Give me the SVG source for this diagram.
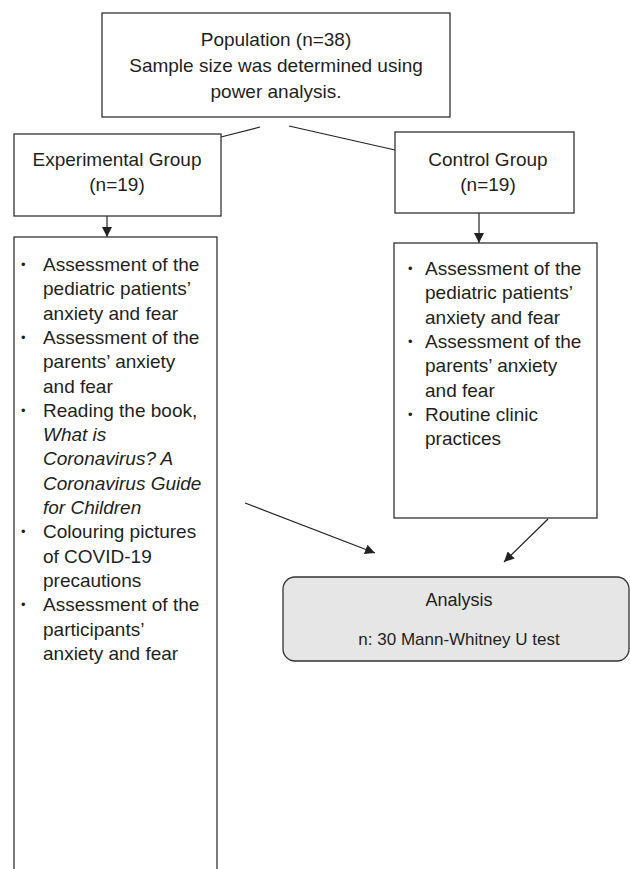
<svg xmlns="http://www.w3.org/2000/svg" width="630" height="869" viewBox="0 0 630 869">
<style>
text{font-family:"Liberation Sans","Open Sans",sans-serif;fill:#231f20;font-size:19px}
.c{text-anchor:middle}
.i{font-style:italic}
.b{font-size:13px}
.box{fill:#fff;stroke:#333;stroke-width:1.3}
.an{fill:#e6e6e6;stroke:#333;stroke-width:1.3}
.ln{stroke:#222;stroke-width:1.2;fill:none}
.sm{font-size:17px}
.t18{font-size:18px}
</style>
<defs>
<marker id="ah" viewBox="0 0 10 10" refX="10" refY="5" markerWidth="10" markerHeight="10" markerUnits="userSpaceOnUse" orient="auto">
<path d="M0,0 L10,5 L0,10 z" fill="#222"/>
</marker>
</defs>
<g id="connectors">
<line class="ln" x1="260" y1="127" x2="221" y2="137"/>
<line class="ln" x1="289" y1="126" x2="395" y2="150"/>
<line class="ln" x1="107" y1="216" x2="107" y2="237" marker-end="url(#ah)"/>
<line class="ln" x1="479" y1="213" x2="479" y2="243" marker-end="url(#ah)"/>
<line class="ln" x1="245" y1="503" x2="375" y2="553" marker-end="url(#ah)"/>
<line class="ln" x1="548" y1="519" x2="504" y2="562" marker-end="url(#ah)"/>
</g>
<g id="population">
<rect class="box" x="102" y="13" width="348" height="104"/>
<text class="c" x="276" y="46">Population (n=38)</text>
<text class="c" x="276" y="72">Sample size was determined using</text>
<text class="c" x="276" y="98">power analysis.</text>
</g>
<g id="experimental">
<rect class="box" x="14" y="134" width="207" height="82"/>
<text class="c" x="117" y="166">Experimental Group</text>
<text class="c" x="117" y="191">(n=19)</text>
</g>
<g id="control">
<rect class="box" x="395" y="132" width="179" height="81"/>
<text class="c" x="488" y="166">Control Group</text>
<text class="c" x="488" y="191">(n=19)</text>
</g>
<g id="exp-list">
<rect class="box" x="14" y="237" width="203" height="650"/>
<text class="b" x="21" y="269">•</text><text x="43" y="271">Assessment of the</text>
<text x="43" y="295">pediatric patients’</text>
<text x="43" y="320">anxiety and fear</text>
<text class="b" x="21" y="342">•</text><text x="43" y="344">Assessment of the</text>
<text x="43" y="368">parents’ anxiety</text>
<text x="43" y="393">and fear</text>
<text class="b" x="21" y="415">•</text><text x="43" y="417">Reading the book,</text>
<text class="i" x="43" y="441">What is</text>
<text class="i" x="43" y="465">Coronavirus? A</text>
<text class="i" x="43" y="490">Coronavirus Guide</text>
<text class="i" x="43" y="514">for Children</text>
<text class="b" x="21" y="536">•</text><text x="43" y="538">Colouring pictures</text>
<text x="43" y="563">of COVID-19</text>
<text x="43" y="587">precautions</text>
<text class="b" x="21" y="609">•</text><text x="43" y="611">Assessment of the</text>
<text x="43" y="636">participants’</text>
<text x="43" y="660">anxiety and fear</text>
</g>
<g id="ctrl-list">
<rect class="box" x="394" y="243" width="203" height="275"/>
<text class="b" x="408" y="273">•</text><text x="425" y="275">Assessment of the</text>
<text x="425" y="299">pediatric patients’</text>
<text x="425" y="324">anxiety and fear</text>
<text class="b" x="408" y="346">•</text><text x="425" y="348">Assessment of the</text>
<text x="425" y="372">parents’ anxiety</text>
<text x="425" y="397">and fear</text>
<text class="b" x="408" y="419">•</text><text x="425" y="421">Routine clinic</text>
<text x="425" y="445">practices</text>
</g>
<g id="analysis">
<rect class="an" x="283" y="577" width="346" height="84" rx="12" ry="12"/>
<text class="c t18" x="459" y="606">Analysis</text>
<text class="c sm" x="459" y="645">n: 30 Mann-Whitney U test</text>
</g>
</svg>
